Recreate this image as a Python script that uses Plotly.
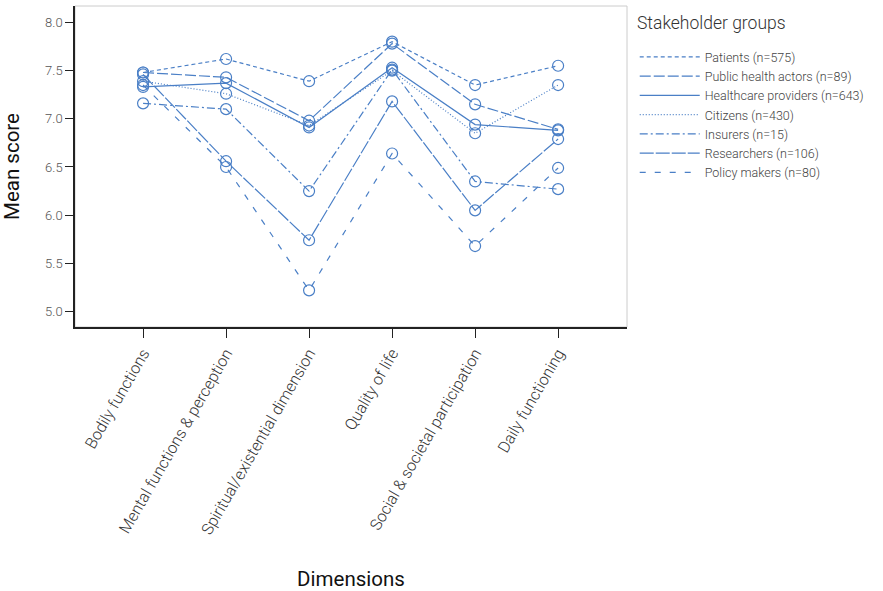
import plotly.graph_objects as go

dimensions = ["Bodily functions", "Mental functions & perception", "Spiritual/existential dimension",
              "Quality of life", "Social & societal participation", "Daily functioning"]

patients = [7.48, 7.62, 7.39, 7.80, 7.35, 7.55]
public_health = [7.48, 7.43, 6.98, 7.78, 7.15, 6.89]
healthcare = [7.33, 7.37, 6.91, 7.53, 6.94, 6.88]
citizens = [7.39, 7.26, 6.93, 7.50, 6.85, 7.35]
insurers = [7.16, 7.10, 6.25, 7.51, 6.35, 6.27]
researchers = [7.46, 6.56, 5.74, 7.18, 6.05, 6.79]
policy_makers = [7.35, 6.50, 5.22, 6.64, 5.68, 6.49]

series = [
    ("Patients (n=575)", patients, "4px,3px"),
    ("Public health actors (n=89)", public_health, "11px,3px"),
    ("Healthcare providers (n=643)", healthcare, "solid"),
    ("Citizens (n=430)", citizens, "1px,2px"),
    ("Insurers (n=15)", insurers, "8px,3px,2px,3px"),
    ("Researchers (n=106)", researchers, "14px,2px"),
    ("Policy makers (n=80)", policy_makers, "6px,9px"),
]

color = "#4a7fc6"
light = dict(family="Roboto, Liberation Sans, Arial, sans-serif", weight=300)
regular = dict(family="Roboto, Liberation Sans, Arial, sans-serif", weight=400)
xs = list(range(len(dimensions)))
fig = go.Figure()
for name, vals, dash in series:
    fig.add_trace(go.Scatter(
        x=xs, y=vals, name=name, mode="lines",
        line=dict(color=color, width=1.2, dash=dash), showlegend=True,
    ))
for name, vals, dash in series:
    fig.add_trace(go.Scatter(
        x=xs, y=vals, name=name, mode="markers", showlegend=False,
        marker=dict(symbol="circle-open", size=11, color=color, line=dict(width=1.2, color=color)),
    ))

fig.update_layout(
    width=883, height=591,
    margin=dict(l=75, r=256, t=6, b=264, autoexpand=False),
    paper_bgcolor="white", plot_bgcolor="white",
    font=dict(family="Roboto, Liberation Sans, Arial, sans-serif", color="#444", size=12),
    showlegend=True,
    legend=dict(
        x=1.014, y=0.887, xanchor="left", yanchor="top",
        font=dict(size=12.5, color="#444", **light),
        tracegroupgap=0, itemwidth=60, bgcolor="rgba(0,0,0,0)",
    ),
    annotations=[dict(text="Stakeholder groups", xref="paper", yref="paper",
                      x=1.015, y=0.985, xanchor="left", yanchor="top", showarrow=False,
                      font=dict(size=17.5, color="#333", **light))],
    shapes=[dict(type="rect", xref="paper", yref="paper", x0=0, y0=0, x1=1, y1=1,
                 line=dict(color="#cccccc", width=1), layer="below")],
)
fig.update_xaxes(
    range=[-0.82, 5.83], tickmode="array", tickvals=xs,
    ticktext=dimensions, tickangle=-60, ticks="outside", ticklen=9, tickcolor="#222",
    showline=True, linecolor="#222", linewidth=1.5, showgrid=False, zeroline=False,
    tickfont=dict(size=16, color="#333", **light), automargin=False,
    title=dict(text="Dimensions", font=dict(size=20.5, color="#111", **regular), standoff=48),
)
fig.update_yaxes(
    range=[4.84, 8.17], tickmode="array", tickvals=[5.0, 5.5, 6.0, 6.5, 7.0, 7.5, 8.0],
    ticktext=["5.0", "5.5", "6.0", "6.5", "7.0", "7.5", "8.0"],
    ticks="outside", ticklen=8, tickcolor="#222",
    showline=True, linecolor="#222", linewidth=1.5, showgrid=False, zeroline=False,
    tickfont=dict(size=13, color="#555", **light), automargin=False,
    title=dict(text="Mean score", font=dict(size=20.5, color="#111", **regular), standoff=22),
)

fig.write_html("out.html", config={"displayModeBar": False},
               post_script="document.body.style.margin='0';")
